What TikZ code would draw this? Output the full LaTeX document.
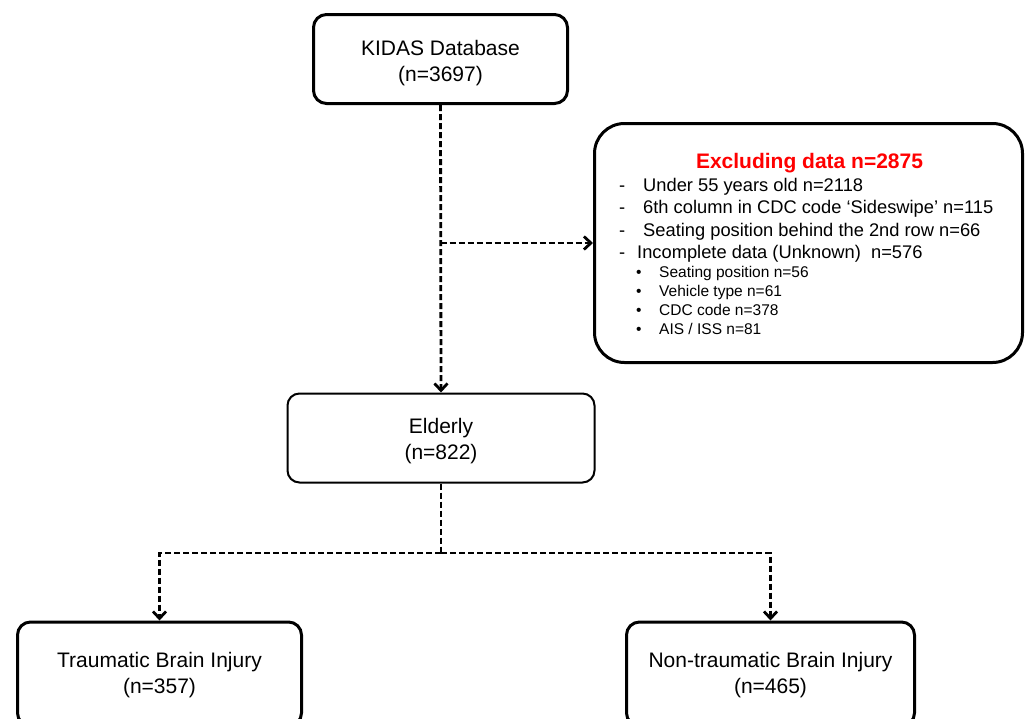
\documentclass[tikz,border=0pt]{standalone}
\usepackage{fontspec}
\setmainfont{Liberation Sans}
\usetikzlibrary{arrows.meta}
\newcommand\twoline[3]{\raisebox{#1}[\height][\depth]{\begin{tabular}{@{}c@{}}#2\\#3\end{tabular}}}
\begin{document}
\begin{tikzpicture}[x=1pt,y=-1pt,
 box/.style={draw, line width=3pt, rounded corners=13pt, font=\fontsize{21}{26}\selectfont, inner sep=0pt},
 conn/.style={line width=2.8pt, dash pattern=on 6pt off 3pt, -{Straight Barb[length=7pt,width=13pt]}},
 dline/.style={line width=2.8pt, dash pattern=on 6pt off 3pt},
 item/.style={anchor=base west, inner sep=0pt, font=\fontsize{18.3}{22}\selectfont},
 subitem/.style={anchor=base west, inner sep=0pt, font=\fontsize{15.5}{19}\selectfont},
]
\useasboundingbox (0,0) rectangle (1027,718);
\node[box, minimum width=254pt, minimum height=89pt] (kidas) at (440.5,59) {\twoline{-4pt}{KIDAS Database}{(n=3697)}};
\node[box, rounded corners=30pt, minimum width=428pt, minimum height=239pt] (exclude) at (808.5,243) {};
\node[box, line width=2pt, rounded corners=12pt, minimum width=307pt, minimum height=89pt] (elderly) at (441,438) {\twoline{-3.5pt}{Elderly}{(n=822)}};
\node[box, minimum width=284pt, minimum height=104pt] (tbi) at (159.5,674) {\twoline{-1pt}{Traumatic Brain Injury}{(n=357)}};
\node[box, minimum width=288pt, minimum height=104pt] (ntbi) at (770.5,674) {\twoline{-1pt}{Non-traumatic Brain Injury}{(n=465)}};

\node[anchor=base, inner sep=0pt, text=red, font=\bfseries\fontsize{21}{26}\selectfont] (title) at (809.5,168) {Excluding data n=2875};
\node[item] (d1) at (619,191) {-};
\node[item] (t1) at (643,191) {Under 55 years old n=2118};
\node[item] (d2) at (619,213.5) {-};
\node[item] (t2) at (643,213.5) {6th column in CDC code ‘Sideswipe’ n=115};
\node[item] (d3) at (619,236) {-};
\node[item] (t3) at (643,236) {Seating position behind the 2nd row n=66};
\node[item] (d4) at (619,258) {-};
\node[item] (t4) at (637,258) {Incomplete data (Unknown)\ \ n=576};
\node[subitem] (b1) at (636,277.7) {•};
\node[subitem] (s1) at (659,277.7) {Seating position n=56};
\node[subitem] (b2) at (636,296.5) {•};
\node[subitem] (s2) at (659,296.5) {Vehicle type n=61};
\node[subitem] (b3) at (636,315.5) {•};
\node[subitem] (s3) at (659,315.5) {CDC code n=378};
\node[subitem] (b4) at (636,334.5) {•};
\node[subitem] (s4) at (659,334.5) {AIS / ISS n=81};

\draw[conn] (kidas.south) -- (elderly.north);
\coordinate (j1) at (kidas.south |- exclude.west);
\draw[conn] (j1) -- (exclude.west);
\coordinate (j2) at (441,553);
\draw[dline] (elderly.south) -- (j2);
\draw[conn] (j2) -| (tbi.north);
\draw[conn] (j2) -| (ntbi.north);
\end{tikzpicture}
\end{document}
